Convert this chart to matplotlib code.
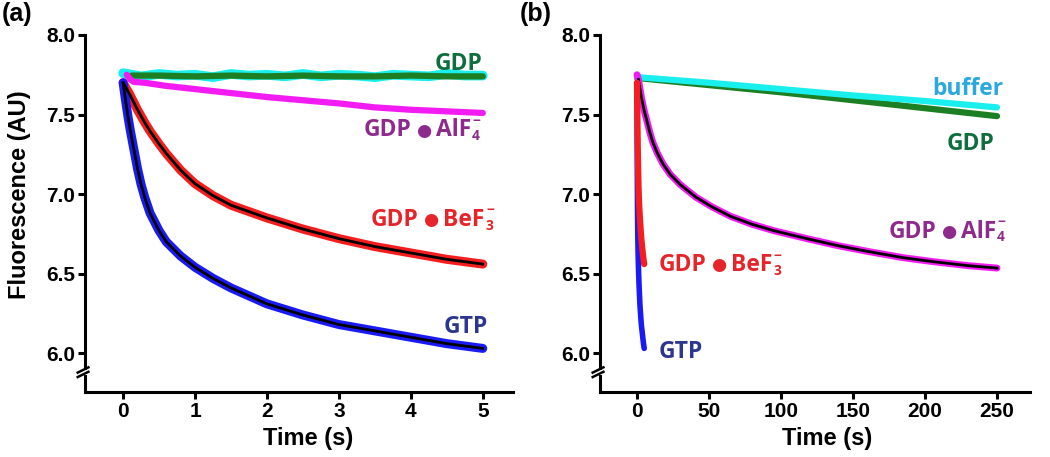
import matplotlib
matplotlib.use('Agg')
import matplotlib.pyplot as plt

plt.rcParams['font.family'] = ['Liberation Sans', 'DejaVu Sans']
plt.rcParams['font.weight'] = 'bold'

# ---------------- Panel (a) data: 0-5 s ----------------
buffer_a_t = [0.0, 0.25, 0.5, 0.75, 1.0, 1.25, 1.5, 1.75, 2.0, 2.25, 2.5,
              2.75, 3.0, 3.25, 3.5, 3.75, 4.0, 4.25, 4.5, 4.75, 5.0]
buffer_a_y = [7.76, 7.74, 7.755, 7.745, 7.75, 7.735, 7.755, 7.745, 7.75, 7.74, 7.755,
              7.74, 7.75, 7.745, 7.735, 7.75, 7.745, 7.74, 7.755, 7.745, 7.745]

gdp_a_t = [0.12, 0.5, 1.0, 1.5, 2.0, 2.5, 3.0, 3.5, 4.0, 4.5, 5.0]
gdp_a_y = [7.745, 7.745, 7.74, 7.745, 7.74, 7.745, 7.74, 7.74, 7.745, 7.74, 7.74]

alf_a_t = [0.05, 0.1, 0.15, 0.3, 0.6, 1.0, 1.5, 2.0, 2.5, 3.0, 3.5, 4.0, 4.5, 5.0]
alf_a_y = [7.75, 7.72, 7.705, 7.70, 7.68, 7.66, 7.635, 7.61, 7.59, 7.57, 7.545, 7.53, 7.52, 7.51]

kin_t = [0.0, 0.03, 0.07, 0.1, 0.15, 0.2, 0.25, 0.3, 0.375, 0.5, 0.6, 0.8, 1.0, 1.25,
         1.5, 1.75, 2.0, 2.5, 3.0, 3.5, 4.0, 4.5, 5.0]
bef_y = [7.70, 7.675, 7.645, 7.62, 7.575, 7.53, 7.49, 7.45, 7.395, 7.315, 7.255, 7.15, 7.065,
         6.99, 6.93, 6.89, 6.85, 6.78, 6.72, 6.67, 6.63, 6.59, 6.56]
gtp_y = [7.70, 7.60, 7.48, 7.40, 7.28, 7.16, 7.06, 6.98, 6.88, 6.77, 6.70, 6.61, 6.54, 6.47,
         6.41, 6.36, 6.31, 6.24, 6.18, 6.14, 6.10, 6.06, 6.03]

# ---------------- Panel (b) data: 0-250 s ----------------
long_t = [0, 50, 100, 150, 200, 250]
buffer_b_y = [7.735, 7.70, 7.66, 7.62, 7.585, 7.545]
gdp_b_y = [7.73, 7.685, 7.64, 7.59, 7.54, 7.49]

alf_b_t = [0, 1, 2, 3, 5, 7, 9, 11, 14, 18, 23, 30, 41, 52, 65, 80, 95, 118, 140,
           160, 185, 206, 230, 250]
alf_b_y = [7.75, 7.72, 7.665, 7.61, 7.525, 7.455, 7.385, 7.325, 7.26, 7.19, 7.125, 7.06,
           6.98, 6.92, 6.86, 6.81, 6.77, 6.72, 6.675, 6.64, 6.60, 6.575, 6.55, 6.535]

yticks = [6.0, 6.5, 7.0, 7.5, 8.0]
yticklabels = ['6.0', '6.5', '7.0', '7.5', '8.0']
xticks_a = [0, 1, 2, 3, 4, 5]
xticks_b = [0, 50, 100, 150, 200, 250]

C_CYAN = '#19F0EE'
C_GREEN = '#1C7F24'
C_MAG = '#F21CF2'
C_RED = '#F51D1D'
C_BLUE = '#1A1AF5'
L_GREEN = '#0F6E3E'
L_PURPLE = '#8E2A8E'
L_RED = '#E6252B'
L_NAVY = '#2C3590'
L_SKY = '#29A9E0'

fig = plt.figure(figsize=(10.5, 4.57), dpi=100)
axa = fig.add_axes([85/1050, 1-392/457, 428/1050, 357/457])
axb = fig.add_axes([600/1050, 1-392/457, 430/1050, 357/457])


def style(ax, xlim, xticks):
    ax.set_xlim(*xlim)
    ax.set_ylim(5.756, 8.0)
    ax.set_xticks(xticks)
    ax.set_xticklabels([str(v) for v in xticks])
    ax.set_yticks(yticks)
    ax.set_yticklabels(yticklabels)
    for s in ['top', 'right']:
        ax.spines[s].set_visible(False)
    for s in ['left', 'bottom']:
        ax.spines[s].set_linewidth(2.2)
    ax.tick_params(direction='out', length=5, width=2.2, labelsize=15, pad=2)
    # axis break marks
    tr = ax.get_yaxis_transform()
    ax.plot([0, 0], [5.862, 5.893], transform=tr, color='white', lw=4,
            clip_on=False, zorder=10, solid_capstyle='butt')
    for y0 in [5.850, 5.878]:
        ax.plot([-0.017, 0.008], [y0, y0 + 0.033], transform=tr, color='black',
                lw=1.8, clip_on=False, zorder=11)


FAM = ['Open Sans', 'DejaVu Sans']
FS = 16.5


def label(ax, x, y, head, color, tail=None, sub=None, sup=None):
    t = ax.text(x, y, head, color=color, fontsize=FS, fontweight='bold',
                family=FAM, ha='left', va='baseline')
    if tail is None:
        return t
    dot = ax.annotate('●', xy=(1, 0.5), xycoords=t, xytext=(3.5, 0),
                      textcoords='offset points', ha='left', va='center',
                      fontsize=12.5, family=['DejaVu Sans'], color=color)
    t2 = ax.annotate(tail, xy=(1, 0), xycoords=(dot, t), xytext=(3.5, 0),
                     textcoords='offset points', ha='left', va='bottom',
                     fontsize=FS, fontweight='bold', family=FAM, color=color)
    ax.annotate(sub, xy=(1, 0), xycoords=t2, xytext=(0.5, -0.5),
                textcoords='offset points', ha='left', va='bottom',
                fontsize=FS * 0.6, fontweight='bold', family=FAM, color=color)
    ax.annotate(sup, xy=(1, 1), xycoords=t2, xytext=(1.0, 3.5),
                textcoords='offset points', ha='left', va='top',
                fontsize=FS * 0.6, fontweight='bold', family=FAM, color=color)
    return t


# ---------------- Panel (a) ----------------
axa.plot(buffer_a_t, buffer_a_y, color=C_CYAN, lw=7, solid_capstyle='round', zorder=2)
axa.plot(gdp_a_t, gdp_a_y, color=C_GREEN, lw=4.5, solid_capstyle='round', zorder=3)
axa.plot(alf_a_t, alf_a_y, color=C_MAG, lw=4.5, solid_capstyle='round', zorder=4)
axa.plot(kin_t, bef_y, color=C_RED, lw=6.5, solid_capstyle='round', zorder=5)
axa.plot(kin_t, bef_y, color='black', lw=2.0, zorder=6)
axa.plot(kin_t, gtp_y, color=C_BLUE, lw=6.5, solid_capstyle='round', zorder=5)
axa.plot(kin_t, gtp_y, color='black', lw=2.0, zorder=6)
style(axa, (-0.53, 5.42), xticks_a)

label(axa, 4.33, 7.779, 'GDP', L_GREEN)
label(axa, 3.34, 7.362, 'GDP', L_PURPLE, 'AlF', '4', '−')
label(axa, 3.44, 6.80, 'GDP', L_RED, 'BeF', '3', '−')
label(axa, 4.45, 6.125, 'GTP', L_NAVY)

# ---------------- Panel (b) ----------------
axb.plot(long_t, gdp_b_y, color=C_GREEN, lw=4.5, solid_capstyle='round', zorder=2)
axb.plot(long_t, buffer_b_y, color=C_CYAN, lw=4.5, solid_capstyle='round', zorder=3)
axb.plot(alf_b_t, alf_b_y, color=C_MAG, lw=5.0, solid_capstyle='round', zorder=4)
axb.plot(alf_b_t[1:], alf_b_y[1:], color='black', lw=2.0, zorder=5)
axb.plot(kin_t, gtp_y, color=C_BLUE, lw=4.0, solid_capstyle='round', zorder=6)
axb.plot(kin_t, bef_y, color=C_RED, lw=4.5, solid_capstyle='round', zorder=7)
style(axb, (-25.7, 272.9), xticks_b)

label(axb, 205.0, 7.623, 'buffer', L_SKY)
label(axb, 215.0, 7.28, 'GDP', L_GREEN)
label(axb, 174.5, 6.727, 'GDP', L_PURPLE, 'AlF', '4', '−')
label(axb, 14.8, 6.514, 'GDP', L_RED, 'BeF', '3', '−')
label(axb, 14.8, 5.967, 'GTP', L_NAVY)

# axis titles
fig.text(20/1050, 1-195/457, 'Fluorescence (AU)', rotation=90, ha='center',
         va='center', fontsize=17, fontweight='bold')
fig.text(308/1050, 1-438/457, 'Time (s)', ha='center', va='center', fontsize=17,
         fontweight='bold')
fig.text(827/1050, 1-438/457, 'Time (s)', ha='center', va='center', fontsize=17,
         fontweight='bold')
fig.text(2/1050, 1-14/457, '(a)', ha='left', va='center', fontsize=18, fontweight='bold')
fig.text(520/1050, 1-14/457, '(b)', ha='left', va='center', fontsize=18, fontweight='bold')

fig.savefig('out.png', dpi=100)
